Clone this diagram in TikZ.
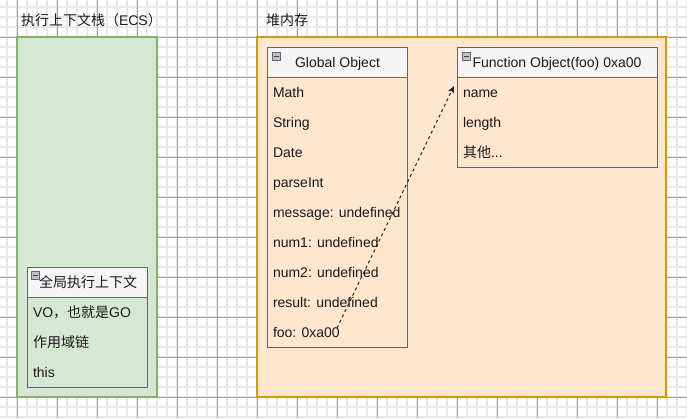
\documentclass[tikz,border=0pt]{standalone}
\usepackage{fontspec}
\setmainfont{Liberation Sans}
\newfontfamily\cjk{Noto Sans CJK SC}
\usetikzlibrary{arrows.meta}
\definecolor{heapfill}{HTML}{FFE6CC}
\definecolor{heapline}{HTML}{D79B00}
\definecolor{ecsfill}{HTML}{D5E8D4}
\definecolor{ecsline}{HTML}{82B366}
\definecolor{hdrfill}{HTML}{F5F5F5}
\definecolor{boxline}{HTML}{666666}
\definecolor{minorc}{HTML}{E8E8E8}
\definecolor{majorc}{HTML}{A0A0A0}
\definecolor{txt}{HTML}{1A1A1A}
\definecolor{iconfill}{HTML}{C0C0CC}
\begin{document}
\begin{tikzpicture}[x=1pt,y=-1pt,
  every node/.style={text=txt,outer sep=0pt},
  minorgrid/.style={draw=minorc,line width=1.3pt},
  majorgrid/.style={draw=majorc,line width=1pt},
  container/.style={anchor=north west,inner sep=0pt,minimum height=360pt},
  hdr/.style={anchor=north west,inner sep=0pt,draw=boxline,fill=hdrfill,line width=1pt,minimum height=30pt},
  bodybox/.style={anchor=north west,inner sep=0pt,draw=boxline,line width=1pt},
  hdrtxt/.style={anchor=base,inner sep=0pt,font=\fontsize{14}{16}\selectfont},
  rowtxt/.style={anchor=base west,inner sep=0pt,font=\fontsize{14}{16}\selectfont},
  titletxt/.style={anchor=base west,inner sep=0pt,font=\fontsize{14}{16}\selectfont},
  icon/.style={draw=boxline,fill=iconfill,line width=0.9pt,minimum size=8pt,inner sep=0pt,
    path picture={\draw[line width=1pt,draw=black!75]
      ([xshift=1.6pt]path picture bounding box.west) -- ([xshift=-1.6pt]path picture bounding box.east);}},
  ref/.style={draw=black!85,line width=1pt,dash pattern=on 3pt off 3pt,
    -{Stealth[length=7pt,width=6pt,inset=1.5pt]}}
]
\useasboundingbox (0,0) rectangle (687,418);
\fill[white] (0,0) rectangle (687,418);
% grid
\foreach \gx in {7,17,...,687} \draw[minorgrid] (\gx,0) -- (\gx,418);
\foreach \gy in {7,17,...,417} \draw[minorgrid] (0,\gy) -- (687,\gy);
\foreach \gx in {17,57,...,687} \draw[majorgrid] (\gx,0) -- (\gx,418);
\foreach \gy in {37,77,...,417} \draw[majorgrid] (0,\gy) -- (687,\gy);

% titles
\node[titletxt] (ecstitle) at (21,25) {{\cjk 执行上下文栈（}ECS{\cjk ）}};
\node[titletxt] (heaptitle) at (266,25) {{\cjk 堆内存}};

% containers
\node[container,fill=ecsfill,minimum width=140pt] (ecs) at (17,37) {};
\node[container,fill=heapfill,minimum width=409pt] (heap) at (257,37) {};
\draw[ecsline,line width=1.2pt] (ecs.north west) rectangle (ecs.south east);
\draw[heapline,line width=1.2pt] (heap.north west) rectangle (heap.south east);

% Global Object
\node[hdr,minimum width=140pt] (gohdr) at (267,47) {};
\node[bodybox,minimum width=140pt,minimum height=270pt] (gobody) at (267,77) {};
\node[icon] (goicon) at (276.7,56.7) {};
\node[hdrtxt] (gotitle) at (337.5,67) {Global Object};
\node[rowtxt] (gmath) at (273,97) {Math};
\node[rowtxt] (gstring) at (273,127) {String};
\node[rowtxt] (gdate) at (273,157) {Date};
\node[rowtxt] (gparse) at (273,187) {parseInt};
\node[rowtxt] (gmsg) at (273,217) {message: undefined};
\node[rowtxt] (gnum1) at (273,247) {num1: undefined};
\node[rowtxt] (gnum2) at (273,277) {num2: undefined};
\node[rowtxt] (gresult) at (273,307) {result: undefined};
\node[rowtxt] (gfoo) at (273,337) {foo: 0xa00};

% Function Object
\node[hdr,minimum width=200pt] (fohdr) at (457,47) {};
\node[bodybox,minimum width=200pt,minimum height=90pt] (fobody) at (457,77) {};
\node[icon] (foicon) at (466.7,56.7) {};
\node[hdrtxt] (fotitle) at (557,67) {Function Object(foo) 0xa00};
\node[rowtxt] (fname) at (463,97) {name};
\node[rowtxt] (flength) at (463,127) {length};
\node[rowtxt] (fother) at (463,157) {{\cjk 其他}...};

% Global execution context
\node[hdr,minimum width=120pt] (gechdr) at (27,267) {};
\node[bodybox,minimum width=120pt,minimum height=90pt] (gecbody) at (27,297) {};
\node[hdrtxt] (gectitle) at (88,287) {{\cjk 全局执行上下文}};
\node[icon] (gecicon) at (35.7,275.8) {};
\node[rowtxt] (gvo) at (33,317) {VO{\cjk ，也就是}GO};
\node[rowtxt] (gscope) at (33,347) {{\cjk 作用域链}};
\node[rowtxt] (gthis) at (33,377) {this};

% reference arrow
\coordinate (refstart) at (337,328);
\coordinate (reftip) at (454,86);
\draw[ref] (refstart) -- (reftip);
\end{tikzpicture}
\end{document}
